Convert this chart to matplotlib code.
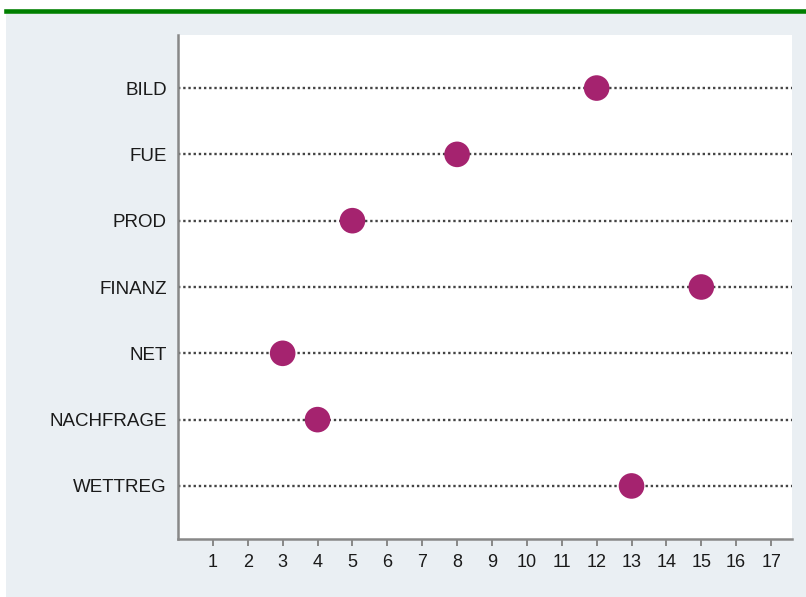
import numpy as np
import matplotlib.pyplot as plt
from matplotlib.patches import Rectangle
from matplotlib.lines import Line2D

plt.rcParams['font.family'] = ['Liberation Sans', 'DejaVu Sans']

labels = ['BILD', 'FUE', 'PROD', 'FINANZ', 'NET', 'NACHFRAGE', 'WETTREG']
values = [12, 8, 5, 15, 3, 4, 13]
xticks = list(range(1, 18))

fig = plt.figure(figsize=(8.06, 5.97), dpi=100)
fig.patch.set_facecolor('white')

# light panel behind the plot and the green rule on top
fig.patches.append(Rectangle((6/806, 0), 800/806, 1 - 14/597, transform=fig.transFigure,
                             facecolor='#eaeff3', edgecolor='none', zorder=-10))
fig.lines.append(Line2D([6/806, 1], [1 - 11.3/597, 1 - 11.3/597], transform=fig.transFigure,
                        color='#007f00', linewidth=3.3, zorder=-5))

ax = fig.add_axes([178/806, 1 - 539/597, (792 - 178)/806, (539 - 35)/597])
ax.set_facecolor('white')

ypos = np.arange(len(labels))
for y in ypos:
    ax.axhline(y, color='#444444', linewidth=1.7, linestyle=(0, (1, 1.2)), zorder=1)
ax.scatter(values, ypos, s=340, color='#a5236f', edgecolors='none', zorder=3)

ax.set_xlim(0, 17.6)
ax.set_ylim(len(labels) - 0.2, -0.8)
ax.set_xticks(xticks)
ax.set_xticklabels([str(t) for t in xticks], fontsize=13, color='#1a1a1a')
ax.set_yticks(ypos)
ax.set_yticklabels(labels, fontsize=13.5, color='#1a1a1a')
ax.tick_params(axis='y', length=0, pad=8)
ax.tick_params(axis='x', length=5, width=1.4, color='#888888', pad=6)

for s in ['top', 'right']:
    ax.spines[s].set_visible(False)
for s in ['left', 'bottom']:
    ax.spines[s].set_color('#888888')
    ax.spines[s].set_linewidth(1.8)

plt.savefig('out.png', dpi=100)
